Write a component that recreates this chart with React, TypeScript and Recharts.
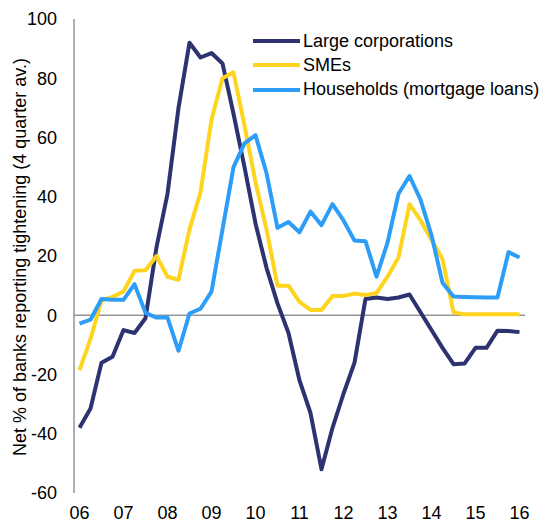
import { LineChart, Line, XAxis, YAxis, ReferenceLine, Legend, Label } from "recharts";

// quarterly, 2006Q1 .. 2016Q1 (4 quarter average)
const yearLabels = ["06", "07", "08", "09", "10", "11", "12", "13", "14", "15", "16"];

const largeCorporations = [
  -38, -31.5, -16, -14, -5, -6, -1, 23, 41, 70, 92, 87, 88.5, 85, 68, 50, 31, 16, 4, -6, -22,
  -33, -52, -38, -26.5, -16, 5.5, 6, 5.5, 6, 7, 1, -5, -11, -16.5, -16.3, -11, -11, -5.2, -5.3,
  -5.7,
];

const smes = [
  -18.5, -8, 5, 6.2, 8, 15, 15.2, 20, 13, 12, 29, 41.5, 66, 80, 82, 64, 45, 29, 10, 10, 4.5, 1.8,
  1.8, 6.5, 6.5, 7.3, 6.8, 7.5, 13, 19.5, 37.5, 32, 25.5, 19, 1, 0.3, 0.3, 0.3, 0.3, 0.3, 0.3,
];

const households = [
  -2.8, -1.5, 5.5, 5.2, 5.2, 10.5, 0.8, -0.8, -0.8, -12, 0.6, 2.2, 8, 29, 50, 58, 60.8, 48, 29.5,
  31.5, 28, 35, 30.4, 37.5, 32, 25.2, 25, 13, 24.5, 41, 47, 39, 27, 11, 6.3, 6.2, 6.1, 6, 6, 21.3,
  19.5,
];

const yTicks = [-60, -40, -20, 0, 20, 40, 60, 80, 100];

const data = largeCorporations.map((v, i) => ({
  q: i,
  large: v,
  sme: smes[i],
  hh: households[i],
}));

const series = [
  { key: "large", name: "Large corporations", color: "#2d3270" },
  { key: "sme", name: "SMEs", color: "#ffd41f" },
  { key: "hh", name: "Households (mortgage loans)", color: "#2e9df7" },
];

const font = '"Liberation Sans", Arial, sans-serif';

function LegendBox() {
  return (
    <div style={{ fontFamily: font, fontSize: 18, color: "#000" }}>
      {series.map((s) => (
        <div key={s.key} style={{ display: "flex", alignItems: "center", height: 24.3, whiteSpace: "nowrap" }}>
          <span style={{ display: "inline-block", width: 47, height: 4, background: s.color, marginRight: 3 }} />
          <span>{s.name}</span>
        </div>
      ))}
    </div>
  );
}

export default function App() {
  return (
    <div style={{ position: "absolute", left: 0, top: 0, background: "#fff" }}>
      <LineChart width={541} height={526} data={data} margin={{ top: 19, right: 16, left: 0, bottom: 0 }}>
        <ReferenceLine y={0} stroke="#959595" strokeWidth={1.5} />
        <XAxis
          dataKey="q"
          type="number"
          domain={[-0.5, 40.5]}
          ticks={yearLabels.map((_, i) => i * 4)}
          tickFormatter={(v: number) => yearLabels[v / 4]}
          axisLine={false}
          tickLine={false}
          tickSize={0}
          tickMargin={13}
          height={33}
          interval={0}
          tick={{ fill: "#000", fontSize: 18, fontFamily: font }}
        />
        <YAxis
          domain={[-60, 100]}
          ticks={yTicks}
          interval={0}
          width={74}
          axisLine={{ stroke: "#959595", strokeWidth: 1.5 }}
          tickLine={false}
          tickSize={0}
          tickMargin={17}
          tick={{ fill: "#000", fontSize: 18, fontFamily: font }}
        >
          <Label
            content={() => (
              <text
                x={20}
                y={257}
                transform="rotate(-90 20 257)"
                textAnchor="middle"
                dominantBaseline="central"
                fill="#000"
                fontSize={18}
                fontFamily={font}
              >
                Net % of banks reporting tightening (4 quarter av.)
              </text>
            )}
          />
        </YAxis>
        <Legend
          layout="vertical"
          align="center"
          verticalAlign="middle"
          content={() => <LegendBox />}
          wrapperStyle={{ top: 29, left: 253, width: "auto" }}
        />
        {series.map((s) => (
          <Line
            key={s.key}
            dataKey={s.key}
            name={s.name}
            stroke={s.color}
            strokeWidth={4}
            strokeLinejoin="round"
            dot={false}
            activeDot={false}
            isAnimationActive={false}
          />
        ))}
      </LineChart>
    </div>
  );
}
